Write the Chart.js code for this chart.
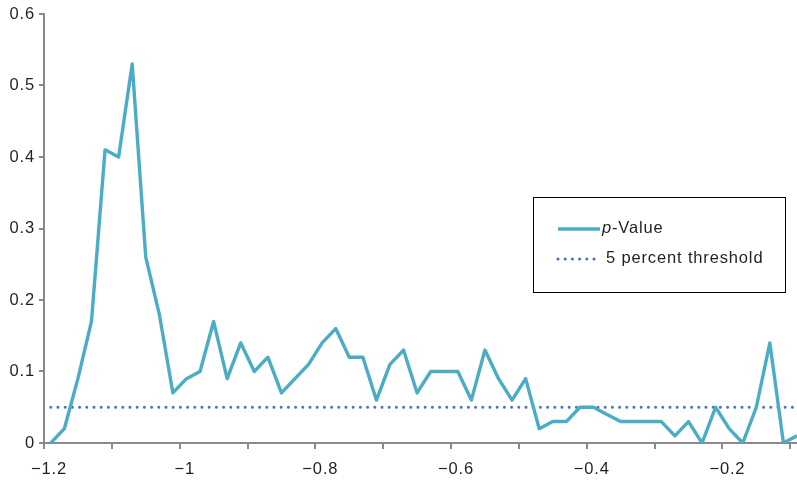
<!DOCTYPE html>
<html>
<head>
<meta charset="utf-8">
<script src="https://cdn.jsdelivr.net/npm/chart.js@4/dist/chart.umd.min.js"></script>
<style>
  html, body { margin: 0; padding: 0; background: #ffffff; }
  canvas { display: block; }
</style>
</head>
<body>
<canvas id="chart" width="797" height="482"></canvas>
<script>
// Grid of shift values (x) and the p-value obtained at each one
const shiftValues = [
  -1.19, -1.17, -1.15, -1.13, -1.11, -1.09, -1.07, -1.05, -1.03, -1.01,
  -0.99, -0.97, -0.95, -0.93, -0.91, -0.89, -0.87, -0.85, -0.83, -0.81,
  -0.79, -0.77, -0.75, -0.73, -0.71, -0.69, -0.67, -0.65, -0.63, -0.61,
  -0.59, -0.57, -0.55, -0.53, -0.51, -0.49, -0.47, -0.45, -0.43, -0.41,
  -0.39, -0.37, -0.35, -0.33, -0.31, -0.29, -0.27, -0.25, -0.23, -0.21,
  -0.19, -0.17, -0.15, -0.13, -0.11, -0.09
];
const pValues = [
  0.00, 0.02, 0.09, 0.17, 0.41, 0.40, 0.53, 0.26, 0.18, 0.07,
  0.09, 0.10, 0.17, 0.09, 0.14, 0.10, 0.12, 0.07, 0.09, 0.11,
  0.14, 0.16, 0.12, 0.12, 0.06, 0.11, 0.13, 0.07, 0.10, 0.10,
  0.10, 0.06, 0.13, 0.09, 0.06, 0.09, 0.02, 0.03, 0.03, 0.05,
  0.05, 0.04, 0.03, 0.03, 0.03, 0.03, 0.01, 0.03, 0.00, 0.05,
  0.02, 0.00, 0.05, 0.14, 0.00, 0.01
];
const thresholdLevel = 0.05;

// Axis ticks
const xTickValues = [-1.2, -1.1, -1.0, -0.9, -0.8, -0.7, -0.6, -0.5, -0.4, -0.3, -0.2, -0.1];
const xLabelledTicks = [-1.2, -1.0, -0.8, -0.6, -0.4, -0.2];
const yTickValues = [0, 0.1, 0.2, 0.3, 0.4, 0.5, 0.6];

const seriesNames = ['p-Value', '5 percent threshold'];

const AXIS_GREY = '#8a8a8a';
const TEXT_COLOR = '#231f20';
const FONT_FAMILY = '"Liberation Sans", Arial, Helvetica, sans-serif';
const FONT_SIZE = 16.5;
const LETTER_SPACING = '0.85px';

function formatNumber(v) {
  const r = Math.round(v * 10) / 10;
  if (r === 0) return '0';
  return (r < 0 ? '\u2212' : '') + String(Math.abs(r));
}

// Slightly open tracking for every piece of text on the canvas
const textTracking = {
  id: 'textTracking',
  beforeDraw(chart) {
    chart.ctx.letterSpacing = LETTER_SPACING;
  }
};

// Legend drawn inside the plot as a framed box
const framedLegend = {
  id: 'framedLegend',
  afterDraw(chart) {
    const ctx = chart.ctx;
    const box = { x: 533, y: 197, w: 252, h: 95 };
    ctx.save();
    ctx.letterSpacing = LETTER_SPACING;
    ctx.strokeStyle = '#000000';
    ctx.lineWidth = 1;
    ctx.strokeRect(box.x + 0.5, box.y + 0.5, box.w, box.h);

    const rows = [box.y + 32, box.y + 62];
    chart.data.datasets.forEach((ds, i) => {
      const y = rows[i];
      ctx.save();
      ctx.strokeStyle = ds.borderColor;
      ctx.lineWidth = ds.borderWidth;
      ctx.lineCap = ds.borderCapStyle || 'butt';
      ctx.setLineDash(ds.borderDash || []);
      ctx.beginPath();
      ctx.moveTo(box.x + 25, y);
      ctx.lineTo(box.x + 67, y);
      ctx.stroke();
      ctx.restore();

      ctx.fillStyle = TEXT_COLOR;
      ctx.textBaseline = 'middle';
      ctx.textAlign = 'left';
      let tx = box.x + 69;
      const label = ds.label;
      const ty = y - 0.5;
      if (label.startsWith('p-')) {
        ctx.font = 'italic ' + FONT_SIZE + 'px ' + FONT_FAMILY;
        ctx.fillText('p', tx, ty);
        tx += ctx.measureText('p').width;
        ctx.font = FONT_SIZE + 'px ' + FONT_FAMILY;
        ctx.fillText(label.slice(1), tx, ty);
      } else {
        ctx.font = FONT_SIZE + 'px ' + FONT_FAMILY;
        ctx.fillText(label, tx + 4, ty);
      }
    });
    ctx.restore();
  }
};

new Chart(document.getElementById('chart'), {
  type: 'scatter',
  data: {
    datasets: [
      {
        label: seriesNames[0],
        data: shiftValues.map((x, i) => ({ x: x, y: pValues[i] })),
        showLine: true,
        borderColor: '#4bacc6',
        backgroundColor: '#4bacc6',
        borderWidth: 3.4,
        borderJoinStyle: 'round',
        pointRadius: 0,
        tension: 0
      },
      {
        label: seriesNames[1],
        data: [
          { x: shiftValues[0], y: thresholdLevel },
          { x: shiftValues[shiftValues.length - 1], y: thresholdLevel }
        ],
        showLine: true,
        borderColor: '#4472c4',
        backgroundColor: '#4472c4',
        borderWidth: 3,
        borderDash: [0, 7.2],
        borderCapStyle: 'round',
        pointRadius: 0
      }
    ]
  },
  options: {
    responsive: false,
    animation: false,
    layout: { padding: { top: 14, right: 0, left: 0, bottom: 0 } },
    plugins: {
      legend: { display: false },
      tooltip: { enabled: false }
    },
    scales: {
      x: {
        type: 'linear',
        min: -1.2,
        max: -0.09,
        afterBuildTicks: (scale) => { scale.ticks = xTickValues.map(v => ({ value: v })); },
        afterFit: (scale) => {
          scale.height = 39;
          scale.paddingLeft = 0;
          scale.paddingRight = 0;
        },
        border: { display: true, color: AXIS_GREY, width: 2 },
        grid: { drawOnChartArea: false, drawTicks: true, tickLength: 6, color: AXIS_GREY, lineWidth: 2 },
        ticks: {
          autoSkip: false,
          maxRotation: 0,
          padding: 11,
          labelOffset: 5,
          color: TEXT_COLOR,
          font: { family: FONT_FAMILY, size: FONT_SIZE },
          callback: (v) => xLabelledTicks.some(t => Math.abs(t - v) < 1e-6) ? formatNumber(v) : ''
        }
      },
      y: {
        type: 'linear',
        min: 0,
        max: 0.6,
        afterBuildTicks: (scale) => { scale.ticks = yTickValues.map(v => ({ value: v })); },
        afterFit: (scale) => { scale.width = 44; },
        border: { display: true, color: AXIS_GREY, width: 2 },
        grid: { drawOnChartArea: false, drawTicks: true, tickLength: 5, color: AXIS_GREY, lineWidth: 2 },
        ticks: {
          padding: 4,
          color: TEXT_COLOR,
          font: { family: FONT_FAMILY, size: FONT_SIZE },
          callback: (v) => formatNumber(v)
        }
      }
    }
  },
  plugins: [textTracking, framedLegend]
});
</script>
</body>
</html>
